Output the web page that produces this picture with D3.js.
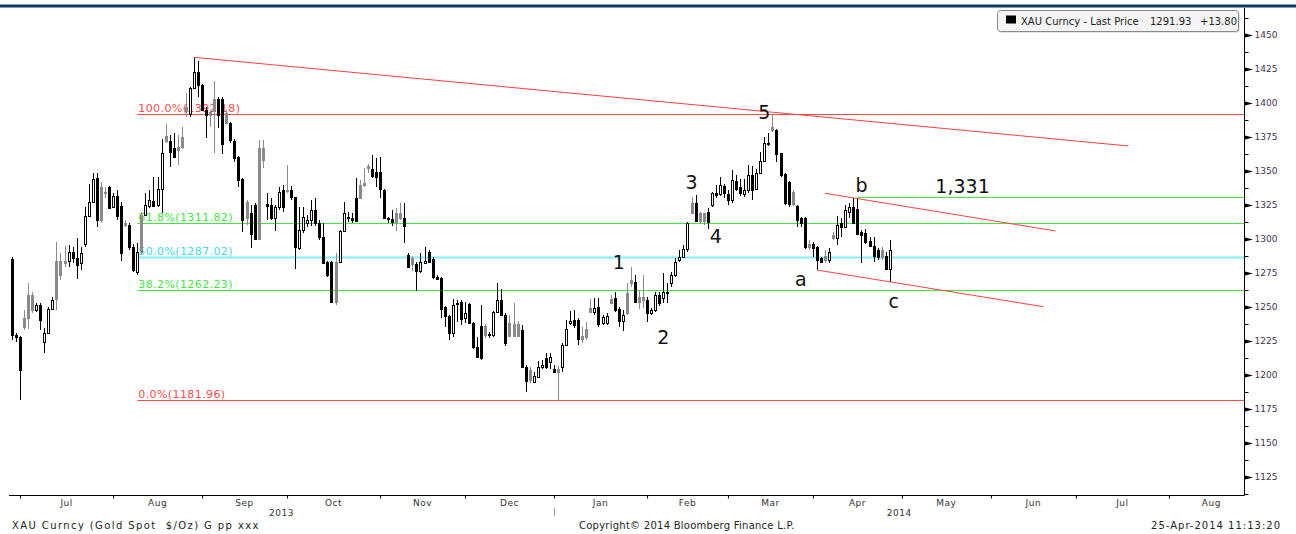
<!DOCTYPE html>
<html>
<head>
<meta charset="utf-8">
<script src="https://cdn.jsdelivr.net/npm/d3@7"></script>
<style>
body { margin: 0; background: #fff; }
svg { display: block; font-family: 'DejaVu Sans', Verdana, sans-serif; }
</style>
</head>
<body>
<svg width="1296" height="534"></svg>
<script>
// daily XAU bars, 26-Jun-2013 .. 25-Apr-2014 (one per weekday)
const open = [
  1285.1, 1229.4, 1228.2, 1241.7, 1258.8, 1258.8, 1247.8, 1251.5, 1224.5, 1231.1,
  1248.3, 1284.1, 1284.1, 1284.1, 1284.1, 1290.7, 1285.8, 1282.1, 1296.1, 1316.9,
  1327.4, 1344.6, 1338.5, 1334.8, 1338.5, 1323.3, 1331.9, 1324.3, 1312.0, 1310.3,
  1294.4, 1276.0, 1317.6, 1317.6, 1324.3, 1328.2, 1325.0, 1336.5, 1375.7, 1372.3,
  1366.7, 1367.4, 1374.8, 1396.8, 1391.9, 1410.8, 1423.0, 1413.2, 1394.9, 1393.6,
  1402.7, 1403.2, 1402.7, 1392.4, 1385.5, 1372.3, 1360.5, 1343.9, 1327.4, 1319.4,
  1325.0, 1366.7, 1366.7, 1325.5, 1325.0, 1315.2, 1323.8, 1336.0, 1336.0, 1336.0,
  1330.6, 1293.1, 1306.6, 1311.5, 1314.0, 1321.3, 1311.5, 1301.7, 1283.3, 1283.3,
  1283.3, 1283.3, 1306.1, 1316.4, 1315.2, 1329.9, 1339.7, 1340.9, 1353.7, 1351.2,
  1349.5, 1349.5, 1336.0, 1315.2, 1314.5, 1318.9, 1319.4, 1315.2, 1288.2, 1285.8,
  1281.6, 1276.7, 1282.6, 1290.7, 1285.1, 1272.3, 1271.6, 1249.8, 1243.4, 1230.6,
  1252.2, 1253.9, 1241.7, 1252.2, 1238.0, 1220.4, 1236.0, 1236.0, 1229.4, 1229.4,
  1246.6, 1255.1, 1244.1, 1238.0, 1237.5, 1237.5, 1233.1, 1205.6, 1203.7, 1195.1,
  1198.8, 1205.6, 1212.3, 1209.8, 1204.2, 1204.2, 1206.1, 1222.1, 1238.5, 1240.4,
  1240.4, 1228.7, 1233.6, 1249.0, 1246.6, 1250.2, 1238.0, 1238.0, 1255.6, 1256.4,
  1248.3, 1240.0, 1260.5, 1269.9, 1268.6, 1257.6, 1257.6, 1255.1, 1245.8, 1247.8,
  1258.8, 1256.4, 1261.3, 1267.4, 1273.5, 1284.6, 1287.0, 1292.4, 1326.7, 1326.7,
  1318.9, 1318.9, 1320.1, 1325.0, 1333.6, 1333.1, 1339.0, 1333.1, 1328.7, 1342.9,
  1338.0, 1333.1, 1336.0, 1347.1, 1336.5, 1348.8, 1357.6, 1369.9, 1382.1, 1380.2,
  1363.0, 1347.8, 1342.2, 1334.8, 1324.3, 1315.2, 1315.2, 1296.3, 1296.3, 1294.4,
  1285.8, 1287.5, 1284.6, 1303.0, 1300.5, 1312.0, 1309.1, 1320.1, 1323.3, 1321.8,
  1305.4, 1304.7, 1298.8, 1294.9, 1292.0, 1292.0, 1287.5, 1278.1
];
const high = [
  1287.0, 1231.0, 1228.7, 1247.8, 1267.4, 1261.3, 1253.2, 1252.7, 1234.3, 1250.2,
  1257.6, 1298.0, 1289.5, 1294.8, 1295.6, 1294.4, 1300.5, 1294.4, 1323.8, 1340.2,
  1348.3, 1348.3, 1342.2, 1338.5, 1339.0, 1333.6, 1336.0, 1327.4, 1314.0, 1311.5,
  1296.3, 1297.3, 1320.1, 1333.6, 1336.0, 1345.8, 1345.8, 1373.3, 1384.6, 1376.5,
  1377.7, 1376.5, 1382.1, 1407.6, 1412.0, 1433.6, 1431.1, 1414.0, 1397.3, 1394.9,
  1416.4, 1404.7, 1404.7, 1394.9, 1386.0, 1373.3, 1361.0, 1344.5, 1328.7, 1325.0,
  1326.2, 1372.8, 1372.8, 1333.6, 1329.9, 1325.0, 1338.5, 1340.0, 1354.4, 1339.0,
  1331.1, 1323.8, 1323.8, 1317.6, 1328.7, 1329.9, 1314.0, 1311.5, 1284.1, 1284.1,
  1289.5, 1306.6, 1327.4, 1320.1, 1319.4, 1344.6, 1343.4, 1352.0, 1355.2, 1361.8,
  1359.3, 1360.5, 1336.5, 1316.4, 1321.3, 1322.5, 1326.7, 1326.7, 1289.5, 1287.5,
  1283.3, 1289.5, 1294.4, 1291.9, 1287.0, 1273.5, 1272.3, 1250.7, 1244.1, 1255.6,
  1255.1, 1255.1, 1253.9, 1253.2, 1239.2, 1228.2, 1251.5, 1237.5, 1231.9, 1247.3,
  1267.9, 1263.0, 1245.3, 1244.1, 1252.7, 1240.0, 1236.8, 1207.4, 1206.1, 1202.5,
  1210.5, 1211.0, 1216.0, 1216.4, 1207.4, 1206.6, 1223.8, 1240.4, 1247.3, 1247.8,
  1241.7, 1235.5, 1239.2, 1255.6, 1256.4, 1256.4, 1244.1, 1245.8, 1258.8, 1261.3,
  1250.2, 1247.8, 1267.4, 1279.7, 1273.5, 1262.5, 1273.5, 1257.6, 1249.0, 1261.3,
  1261.3, 1274.8, 1267.4, 1276.0, 1285.8, 1291.9, 1295.6, 1312.7, 1330.6, 1332.4,
  1320.1, 1319.4, 1322.6, 1334.8, 1339.7, 1345.3, 1340.4, 1336.0, 1350.7, 1347.1,
  1343.9, 1343.9, 1354.4, 1353.7, 1351.2, 1364.2, 1375.2, 1378.2, 1391.2, 1380.6,
  1363.5, 1348.3, 1342.9, 1336.0, 1325.0, 1316.4, 1316.4, 1299.3, 1298.1, 1294.9,
  1286.5, 1291.9, 1293.1, 1305.4, 1316.9, 1315.2, 1325.0, 1326.2, 1329.9, 1329.9,
  1306.6, 1307.1, 1301.7, 1301.7, 1293.1, 1294.4, 1290.7, 1299.3
];
const low = [
  1225.7, 1224.5, 1181.6, 1233.1, 1233.6, 1245.4, 1246.6, 1233.1, 1215.9, 1230.6,
  1247.8, 1247.8, 1269.9, 1279.7, 1279.7, 1282.1, 1270.4, 1277.2, 1294.4, 1316.4,
  1326.2, 1309.1, 1311.5, 1329.9, 1321.8, 1322.6, 1314.0, 1284.1, 1309.1, 1291.9,
  1276.0, 1273.5, 1289.0, 1316.9, 1322.6, 1323.8, 1323.8, 1318.9, 1370.8, 1352.7,
  1359.3, 1354.4, 1366.4, 1389.5, 1389.5, 1410.8, 1404.7, 1394.0, 1374.0, 1382.6,
  1363.0, 1381.4, 1362.5, 1385.0, 1370.4, 1356.9, 1338.5, 1305.4, 1310.3, 1293.1,
  1299.3, 1299.3, 1352.0, 1314.0, 1314.0, 1306.1, 1321.3, 1320.1, 1333.6, 1328.7,
  1277.7, 1291.9, 1304.2, 1308.6, 1309.6, 1309.6, 1299.3, 1281.6, 1272.3, 1253.2,
  1251.5, 1282.6, 1305.4, 1312.7, 1311.5, 1312.7, 1329.2, 1338.5, 1348.3, 1344.6,
  1338.5, 1329.9, 1314.5, 1312.0, 1309.6, 1306.1, 1314.0, 1296.8, 1279.2, 1276.7,
  1262.0, 1275.2, 1281.6, 1282.6, 1270.3, 1269.9, 1241.7, 1235.5, 1225.7, 1228.2,
  1239.2, 1236.8, 1238.0, 1237.5, 1218.9, 1212.3, 1211.0, 1227.0, 1227.0, 1228.2,
  1245.3, 1243.4, 1221.3, 1228.2, 1227.7, 1227.7, 1204.9, 1187.7, 1194.4, 1193.9,
  1197.6, 1204.2, 1204.2, 1204.2, 1201.2, 1181.6, 1202.5, 1221.3, 1236.8, 1234.3,
  1222.1, 1223.3, 1225.7, 1245.3, 1244.1, 1235.5, 1236.8, 1236.8, 1252.7, 1246.6,
  1235.5, 1232.6, 1244.1, 1264.5, 1252.7, 1248.3, 1249.0, 1239.2, 1244.1, 1246.6,
  1250.7, 1252.7, 1252.7, 1265.0, 1272.3, 1283.3, 1285.8, 1290.7, 1318.4, 1312.7,
  1312.0, 1310.3, 1307.1, 1323.8, 1329.9, 1331.6, 1329.9, 1325.0, 1326.2, 1335.5,
  1331.6, 1331.1, 1334.1, 1328.7, 1336.0, 1348.3, 1356.9, 1368.4, 1378.9, 1356.9,
  1345.3, 1325.0, 1323.3, 1324.3, 1309.1, 1309.1, 1292.4, 1291.9, 1287.0, 1277.2,
  1282.6, 1282.1, 1282.6, 1299.3, 1295.6, 1301.7, 1307.9, 1315.2, 1311.5, 1303.0,
  1282.1, 1296.3, 1293.9, 1283.3, 1284.6, 1284.6, 1277.2, 1268.6
];
const close = [
  1229.4, 1228.2, 1203.7, 1235.6, 1241.7, 1247.8, 1251.5, 1240.4, 1231.1, 1248.3,
  1255.2, 1255.6, 1273.5, 1282.1, 1290.7, 1285.8, 1280.9, 1290.0, 1316.9, 1327.4,
  1343.9, 1314.0, 1314.0, 1334.1, 1322.6, 1331.6, 1316.9, 1289.5, 1310.3, 1294.4,
  1277.2, 1290.7, 1290.7, 1325.0, 1328.7, 1324.3, 1336.5, 1363.0, 1372.3, 1364.2,
  1360.6, 1365.4, 1367.4, 1394.4, 1410.8, 1423.0, 1413.2, 1394.9, 1391.2, 1391.2,
  1394.4, 1391.2, 1370.0, 1385.5, 1372.8, 1359.3, 1343.4, 1314.0, 1315.2, 1303.7,
  1299.8, 1299.8, 1358.1, 1324.5, 1315.2, 1323.8, 1334.8, 1323.8, 1335.3, 1330.6,
  1293.9, 1306.6, 1316.4, 1314.0, 1321.3, 1311.5, 1301.7, 1282.1, 1273.5, 1253.9,
  1253.9, 1306.1, 1319.4, 1315.2, 1314.0, 1313.5, 1329.9, 1340.0, 1352.0, 1346.3,
  1345.3, 1336.5, 1315.2, 1314.5, 1312.7, 1312.7, 1315.2, 1309.6, 1279.6, 1281.6,
  1276.7, 1283.3, 1284.1, 1283.3, 1272.3, 1270.3, 1248.3, 1243.4, 1230.6, 1251.5,
  1253.2, 1240.9, 1245.3, 1238.0, 1220.4, 1213.0, 1212.3, 1229.4, 1230.2, 1246.6,
  1255.1, 1244.1, 1223.3, 1228.7, 1228.7, 1228.7, 1205.6, 1195.8, 1196.3, 1199.3,
  1205.6, 1207.4, 1205.6, 1213.5, 1202.5, 1202.5, 1222.1, 1233.6, 1240.0, 1236.8,
  1226.2, 1226.2, 1227.7, 1246.6, 1249.0, 1237.5, 1242.4, 1243.4, 1253.2, 1247.8,
  1240.0, 1244.1, 1245.3, 1267.4, 1253.9, 1253.9, 1255.1, 1245.8, 1247.8, 1258.8,
  1252.7, 1261.3, 1260.1, 1273.5, 1283.3, 1287.0, 1292.4, 1312.0, 1319.4, 1313.5,
  1313.5, 1313.5, 1312.7, 1333.6, 1332.4, 1339.7, 1333.6, 1328.7, 1343.4, 1336.5,
  1333.6, 1336.0, 1347.1, 1336.0, 1348.8, 1357.6, 1370.3, 1370.8, 1380.2, 1362.5,
  1347.1, 1326.7, 1325.7, 1325.7, 1314.0, 1311.5, 1293.9, 1294.4, 1293.1, 1284.6,
  1283.3, 1284.6, 1290.7, 1300.5, 1310.3, 1308.6, 1321.3, 1323.3, 1311.5, 1303.7,
  1303.0, 1298.1, 1294.9, 1287.5, 1287.0, 1287.0, 1278.1, 1291.93
];

const yTickValues = [1125, 1150, 1175, 1200, 1225, 1250, 1275, 1300, 1325, 1350, 1375, 1400, 1425, 1450];

// fibonacci retracement of the 1181.96 -> 1392.18 move
const fibPcts = ['100.0%', '61.8%', '50.0%', '38.2%', '0.0%'];
const fibValues = [1392.18, 1311.82, 1287.02, 1262.23, 1181.96];
const fibColors = ['#ff4a4a', '#3fe83f', '#7ef0ff', '#3fe83f', '#ff4a4a'];
const fibStart = '2013-08-08';

const resistValue = 1331;
const resistStart = '2014-04-15';

const trendFromDates = ['2013-08-28', '2014-04-03', '2014-04-01'];
const trendFromValues = [1433.6, 1333.6, 1277.2];
const trendToDates = ['2014-07-17', '2014-06-23', '2014-06-18'];
const trendToValues = [1368.4, 1305.9, 1250.2];

const waveTexts = ['1', '2', '3', '4', '5', 'a', 'b', 'c', '1,331'];
const waveDates = ['2014-01-22', '2014-02-06', '2014-02-17', '2014-02-25', '2014-03-13',
                   '2014-03-26', '2014-04-16', '2014-04-28', '2014-05-21'];
const waveValues = [1277.6, 1222.8, 1336.8, 1297.1, 1387.9, 1265.4, 1334.6, 1249.3, 1333.6];

const legendName = 'XAU Curncy - Last Price';
const lastPrice = '1291.93';
const lastChange = '+13.80';

const svg = d3.select('svg');
const width = +svg.attr('width');

const plotLeft = 9;
const plotRight = 1244.5;
const plotTop = 8;
const plotBottom = 495.5;

// x runs over trading days (weekdays), not calendar time
const tradingDays = d3.timeDay.range(new Date(2013, 5, 26), new Date(2014, 8, 1))
    .filter(d => d.getDay() % 6 !== 0);
const fmt = d3.timeFormat('%Y-%m-%d');
const dayIndex = new Map(tradingDays.map((d, i) => [fmt(d), i]));

const xScale = d3.scaleLinear()
    .domain([-0.72, 304.7])
    .range([plotLeft, plotRight]);
const yScale = d3.scaleLinear()
    .domain([1450, 1125])
    .range([35, 477]);
const xOf = s => xScale(dayIndex.get(s));

// top band
svg.append('rect')
    .attr('x', 0).attr('y', 4.5)
    .attr('width', width).attr('height', 3)
    .attr('fill', '#0e3a68');

// fib levels (under the candles)
const fibG = svg.append('g');
fibValues.forEach((v, k) => {
    const y = Math.round(yScale(v)) + 0.5;
    fibG.append('line')
        .attr('x1', xOf(fibStart)).attr('x2', plotRight)
        .attr('y1', y).attr('y2', y)
        .attr('stroke', fibColors[k])
        .attr('stroke-width', fibPcts[k] === '50.0%' ? 2 : 1);
    fibG.append('text')
        .attr('x', xOf(fibStart) + 1)
        .attr('y', y - 2.5)
        .attr('font-size', 11)
        .attr('letter-spacing', 0.4)
        .attr('fill', fibPcts[k] === '50.0%' ? '#3fd8ee' : fibColors[k])
        .text(`${fibPcts[k]}(${v.toFixed(2)})`);
});

const ry = Math.round(yScale(resistValue)) + 0.5;
fibG.append('line')
    .attr('x1', xOf(resistStart)).attr('x2', plotRight)
    .attr('y1', ry).attr('y2', ry)
    .attr('stroke', '#3fe83f');

// candles
const candleG = svg.append('g').attr('shape-rendering', 'crispEdges');
close.forEach((c, i) => {
    const o = open[i];
    const prev = i ? close[i - 1] : o;
    const up = c >= o;
    const fill = up ? '#fff' : (c < prev ? '#000' : '#8a8a8a');
    const stroke = fill === '#8a8a8a' ? '#8a8a8a' : '#000';
    const cx = Math.round(xScale(i)) + 0.5;
    const yTop = Math.round(yScale(Math.max(o, c))) + 0.5;
    const yBot = Math.round(yScale(Math.min(o, c))) + 0.5;
    candleG.append('line')
        .attr('x1', cx).attr('x2', cx)
        .attr('y1', yScale(high[i])).attr('y2', yScale(low[i]))
        .attr('stroke', stroke);
    candleG.append('rect')
        .attr('x', cx - 1).attr('y', yTop)
        .attr('width', 2).attr('height', Math.max(yBot - yTop, 0))
        .attr('fill', fill)
        .attr('stroke', stroke);
});

// trend lines
trendFromDates.forEach((d, k) => {
    svg.append('line')
        .attr('x1', xOf(d)).attr('y1', yScale(trendFromValues[k]))
        .attr('x2', xOf(trendToDates[k])).attr('y2', yScale(trendToValues[k]))
        .attr('stroke', '#ff4040')
        .attr('stroke-width', 1);
});

// wave labels
svg.append('g').selectAll('text').data(waveTexts)
    .enter().append('text')
        .attr('x', (d, k) => xOf(waveDates[k]))
        .attr('y', (d, k) => yScale(waveValues[k]))
        .attr('text-anchor', 'middle')
        .attr('font-size', 19)
        .attr('fill', '#111')
        .text(d => d);

// right axis
const yAxis = d3.axisRight(yScale)
    .tickValues(yTickValues)
    .tickFormat(d3.format('d'))
    .tickSize(0)
    .tickPadding(10);
const yAxisG = svg.append('g')
    .attr('transform', `translate(${plotRight}, 0)`)
    .call(yAxis);
yAxisG.select('.domain').remove();
yAxisG.selectAll('.tick text')
    .attr('font-family', "'DejaVu Sans', Verdana, sans-serif")
    .attr('font-size', 9)
    .attr('fill', '#4a3050');
yAxisG.selectAll('.tick').append('path')
    .attr('d', 'M0.5,-2L8.5,0L0.5,2Z')
    .attr('fill', '#000');
const minorTicks = [yTickValues[0] - 12.5].concat(yTickValues.map(v => v + 12.5));
yAxisG.selectAll('.minor').data(minorTicks)
    .enter().append('line')
        .attr('class', 'minor')
        .attr('x1', 0.5).attr('x2', 4)
        .attr('y1', d => Math.round(yScale(d)) + 0.5)
        .attr('y2', d => Math.round(yScale(d)) + 0.5)
        .attr('stroke', '#000');

svg.append('line')
    .attr('x1', plotRight).attr('x2', plotRight)
    .attr('y1', plotTop).attr('y2', plotBottom)
    .attr('stroke', '#000');

// bottom axis: month boundaries
const months = d3.timeMonth.range(new Date(2013, 6, 1), new Date(2014, 9, 1));
const monthIdx = months.map(m => d3.bisectLeft(tradingDays, m));
const tickX = monthIdx.map(i => xScale(i) - 4);

svg.append('line')
    .attr('x1', plotLeft).attr('x2', plotRight)
    .attr('y1', plotBottom).attr('y2', plotBottom)
    .attr('stroke', '#000');

const xAxisG = svg.append('g')
    .attr('transform', `translate(-4, ${plotBottom})`)
    .call(d3.axisBottom(xScale)
        .tickValues(monthIdx.slice(0, -1))
        .tickSize(3)
        .tickFormat(''));
xAxisG.select('.domain').remove();

const monthFmt = d3.timeFormat('%b');
svg.append('g').selectAll('text').data(months.slice(0, -1))
    .enter().append('text')
        .attr('x', (d, k) => (tickX[k] + tickX[k + 1]) / 2)
        .attr('y', 505.5)
        .attr('text-anchor', 'middle')
        .attr('font-size', 9)
        .attr('letter-spacing', 0.5)
        .attr('fill', '#333')
        .text(d => monthFmt(d));

const janX = tickX[months.findIndex(m => m.getMonth() === 0)];
svg.append('text')
    .attr('x', (plotLeft + janX) / 2).attr('y', 516)
    .attr('text-anchor', 'middle').attr('font-size', 9).attr('letter-spacing', 0.5)
    .attr('fill', '#333').text('2013');
svg.append('text')
    .attr('x', (janX + plotRight) / 2).attr('y', 516)
    .attr('text-anchor', 'middle').attr('font-size', 9).attr('letter-spacing', 0.5)
    .attr('fill', '#333').text('2014');
svg.append('line')
    .attr('x1', Math.round(janX) + 0.5).attr('x2', Math.round(janX) + 0.5)
    .attr('y1', 507.5).attr('y2', 516)
    .attr('stroke', '#999');

// legend
const legend = svg.append('g');
legend.append('rect')
    .attr('x', 998.5).attr('y', 11.5)
    .attr('width', 241).attr('height', 21)
    .attr('rx', 3)
    .attr('fill', '#c8c8c8');
legend.append('rect')
    .attr('x', 997.5).attr('y', 10.5)
    .attr('width', 241).attr('height', 21)
    .attr('rx', 3)
    .attr('fill', '#f4f4f4')
    .attr('stroke', '#8a8a8a');
legend.append('rect')
    .attr('x', 1006).attr('y', 15.5)
    .attr('width', 10).attr('height', 8)
    .attr('fill', '#000');
legend.append('text').attr('x', 1021).attr('y', 25)
    .attr('font-size', 10).attr('fill', '#222').text(legendName);
legend.append('text').attr('x', 1150).attr('y', 25)
    .attr('font-size', 10).attr('fill', '#222').text(lastPrice);
legend.append('text').attr('x', 1200).attr('y', 25)
    .attr('font-size', 10).attr('fill', '#222').text(lastChange);

// footer
const footer = svg.append('g')
    .attr('font-size', 10)
    .attr('fill', '#222');
footer.append('text').attr('x', 12).attr('y', 529)
    .attr('letter-spacing', 1.4)
    .style('white-space', 'pre')
    .text('XAU Curncy (Gold Spot  $/Oz) G pp xxx');
footer.append('text').attr('x', 579).attr('y', 529)
    .attr('letter-spacing', 0.25)
    .text('Copyright\u00a9 2014 Bloomberg Finance L.P.');
footer.append('text').attr('x', 1281).attr('y', 529)
    .attr('text-anchor', 'end')
    .attr('letter-spacing', 1)
    .text('25-Apr-2014 11:13:20');
</script>
</body>
</html>
